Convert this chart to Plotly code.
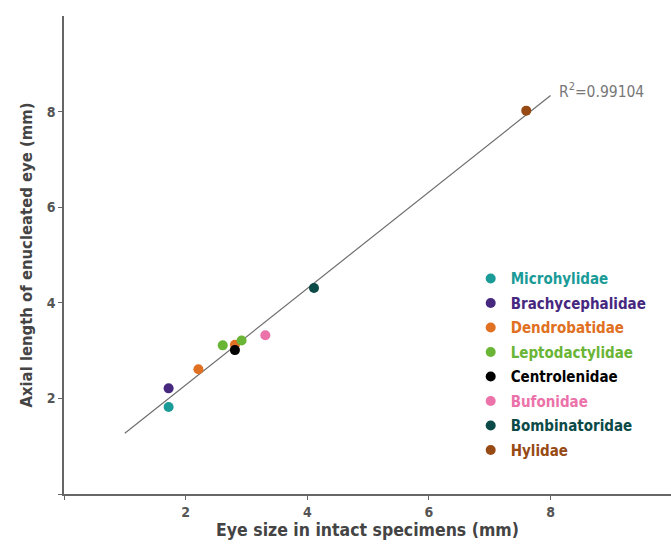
import numpy as np
import plotly.graph_objects as go

families = ["Microhylidae", "Brachycephalidae", "Dendrobatidae", "Leptodactylidae",
            "Centrolenidae", "Bufonidae", "Bombinatoridae", "Hylidae"]
colors = ["#1a9b98", "#47287f", "#e07022", "#6ab536", "#000000", "#ec72aa", "#0b4a47", "#974a14"]
eye_size = [[1.72], [1.72], [2.21, 2.81], [2.61, 2.92], [2.81], [3.31], [4.11], [7.60]]
axial_len = [[1.82], [2.21], [2.61, 3.12], [3.11, 3.21], [3.01], [3.32], [4.31], [8.02]]
r2_label = "R<sup>2</sup>=0.99104"
x_ticks = [0, 2, 4, 6, 8]
x_ticktext = ["", "2", "4", "6", "8"]
y_ticks = [0, 2, 4, 6, 8]
y_ticktext = ["", "2", "4", "6", "8"]
fit_x_range = [1.0, 8.0]

FONT = "Liberation Sans Narrow, DejaVu Sans Condensed, Arial Narrow, sans-serif"

fig = go.Figure()

# regression line
allx = np.concatenate([np.array(v) for v in eye_size])
ally = np.concatenate([np.array(v) for v in axial_len])
slope, intercept = np.polyfit(allx, ally, 1)
fx = np.array(fit_x_range)
fig.add_trace(go.Scatter(x=fx, y=slope * fx + intercept, mode="lines",
                         line=dict(color="#6e6e6e", width=1.2),
                         showlegend=False, hoverinfo="skip"))

for name, col, xs, ys in zip(families, colors, eye_size, axial_len):
    fig.add_trace(go.Scatter(
        x=xs, y=ys, mode="markers", legendgroup=name,
        marker=dict(color=col, size=10, line=dict(width=0)),
        name=f"<b><span style='color:{col}'>{name}</span></b>",
    ))

fig.add_annotation(x=8.1, y=8.45, text=r2_label, showarrow=False, xanchor="left",
                   yanchor="middle", font=dict(family=FONT, size=15.5, color="#777777"))

axis_common = dict(showgrid=False, zeroline=False, showline=True, linecolor="#666666",
                   linewidth=1.5, ticks="outside", ticklen=4, tickwidth=1.2,
                   tickcolor="#666666",
                   tickfont=dict(family=FONT, size=14, color="#555555", weight="bold"))

fig.update_layout(
    width=671, height=544,
    margin=dict(l=64, r=0, t=16, b=50, autoexpand=False),
    plot_bgcolor="white", paper_bgcolor="white",
    xaxis=dict(range=[0, 9.98], tickvals=x_ticks, ticktext=x_ticktext,
               title=dict(text="<b>Eye size in intact specimens (mm)</b>", standoff=4,
                          font=dict(family=FONT, size=17.5, color="#444444")),
               **axis_common),
    yaxis=dict(range=[0, 10], tickvals=y_ticks, ticktext=y_ticktext,
               title=dict(text="<b>Axial length of enucleated eye (mm)</b>", standoff=10,
                          font=dict(family=FONT, size=16.5, color="#444444")),
               **axis_common),
    legend=dict(x=0.67, y=0.485, xanchor="left", yanchor="top",
                font=dict(family=FONT, size=15), itemwidth=30,
                bgcolor="rgba(0,0,0,0)", tracegroupgap=2),
    showlegend=True,
)

fig.write_html("out.html", config={"displayModeBar": False},
               post_script="document.body.style.margin='0';document.body.style.overflow='hidden';")
